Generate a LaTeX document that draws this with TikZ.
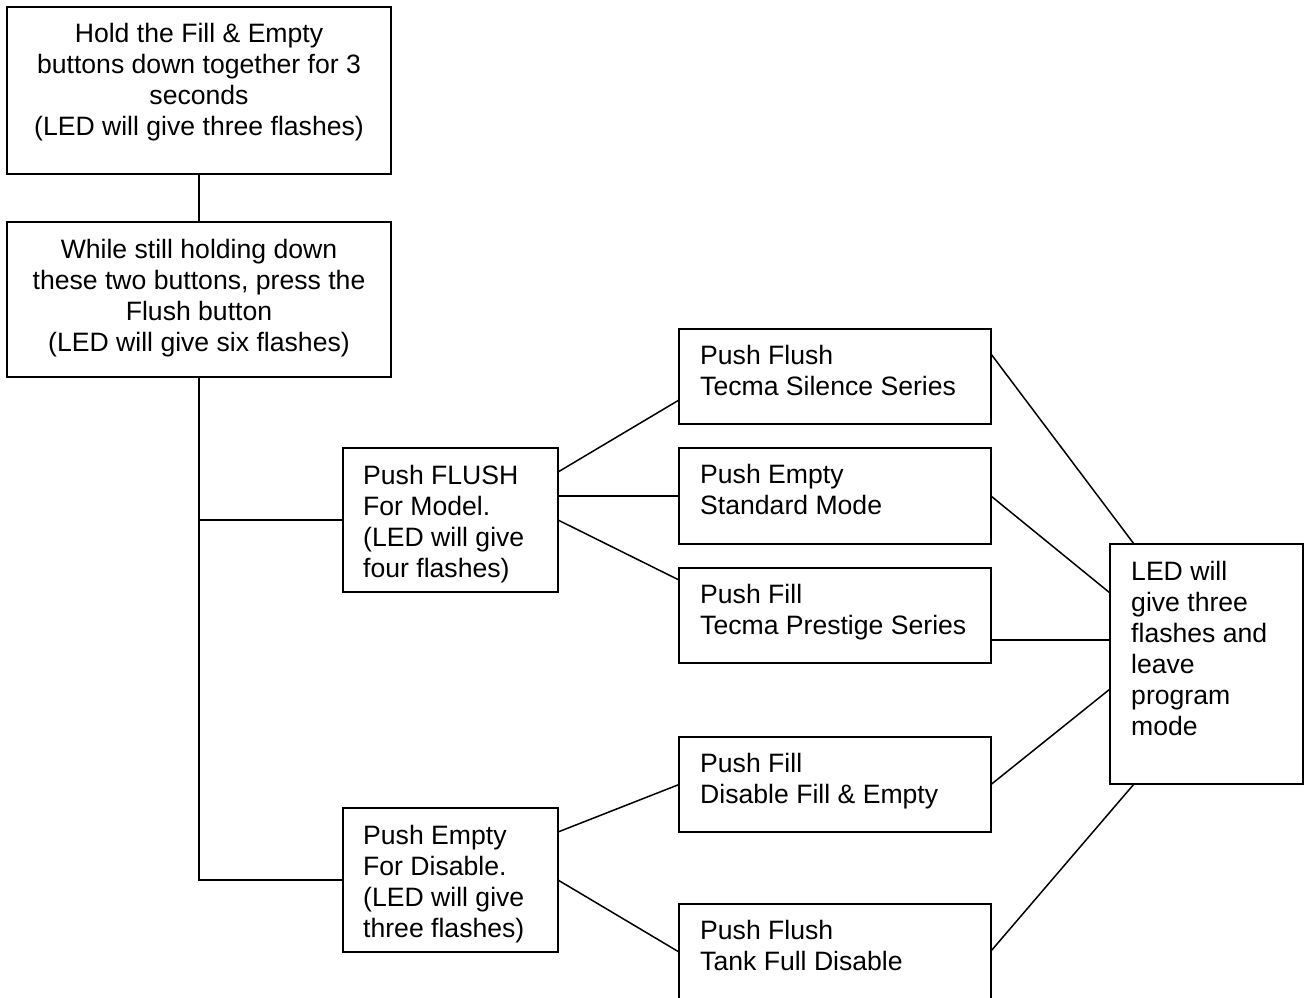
\documentclass[tikz,border=0pt]{standalone}
\usepackage{fontspec}
\setmainfont{Liberation Sans}
\usetikzlibrary{calc}
\begin{document}
\begin{tikzpicture}[x=1pt,y=-1pt,
  box/.style={draw=black,line width=1.6pt,anchor=north west,inner sep=0pt,outer sep=0pt},
  txt/.style={inner sep=0pt,font=\fontsize{26.6}{31}\selectfont},
  conn/.style={draw=black,line width=1.5pt}]
\useasboundingbox (0,0) rectangle (1309,997);
\begin{scope}
\clip (0,0) rectangle (1309,997);
% boxes
\node[box,minimum width=384pt,minimum height=167pt] (A) at (7,7) {};
\node[box,minimum width=384pt,minimum height=155pt] (B) at (7,222) {};
\node[box,minimum width=215pt,minimum height=144pt] (C) at (343,448) {};
\node[box,minimum width=215pt,minimum height=144pt] (D) at (343,808) {};
\node[box,minimum width=312pt,minimum height=95pt] (S1) at (679,329) {};
\node[box,minimum width=312pt,minimum height=96pt] (S2) at (679,448) {};
\node[box,minimum width=312pt,minimum height=95pt] (S3) at (679,568) {};
\node[box,minimum width=312pt,minimum height=95pt] (S4) at (679,737) {};
\node[box,minimum width=312pt,minimum height=120pt] (S5) at (679,904) {};
\node[box,minimum width=193pt,minimum height=240pt] (L) at (1110,544) {};
\end{scope}
% texts (base anchor = baseline of the last line)
\node[txt,align=center,anchor=base] (tA) at ([yshift=-128pt]A.north) {Hold the Fill \& Empty\\buttons down together for 3\\seconds\\ (LED will give three flashes)};
\node[txt,align=center,anchor=base] (tB) at ([yshift=-129pt]B.north) {While still holding down\\these two buttons, press the\\Flush button\\(LED will give six flashes)};
\node[txt,align=left,anchor=base west] (tC) at ([xshift=20pt,yshift=-129pt]C.north west) {Push FLUSH\\For Model.\\(LED will give\\four flashes)};
\node[txt,align=left,anchor=base west] (tD) at ([xshift=20pt,yshift=-129pt]D.north west) {Push Empty\\For Disable.\\(LED will give\\three flashes)};
\node[txt,align=left,anchor=base west] (t1) at ([xshift=21pt,yshift=-66pt]S1.north west) {Push Flush\\Tecma Silence Series};
\node[txt,align=left,anchor=base west] (t2) at ([xshift=21pt,yshift=-66pt]S2.north west) {Push Empty\\Standard Mode};
\node[txt,align=left,anchor=base west] (t3) at ([xshift=21pt,yshift=-66pt]S3.north west) {Push Fill\\Tecma Prestige Series};
\node[txt,align=left,anchor=base west] (t4) at ([xshift=21pt,yshift=-66pt]S4.north west) {Push Fill\\Disable Fill \& Empty};
\node[txt,align=left,anchor=base west] (t5) at ([xshift=21pt,yshift=-66pt]S5.north west) {Push Flush\\Tank Full Disable};
\node[txt,align=left,anchor=base west] (tL) at ([xshift=21pt,yshift=-191pt]L.north west) {LED will\\give three\\flashes and\\leave\\program\\mode};
% connectors
\draw[conn] (A.south) -- (B.north);
\draw[conn] (B.south) |- (D.west);
\draw[conn] (B.south |- C.west) -- (C.west);
\draw[conn] ([yshift=-24pt]C.north east) -- ([yshift=-71pt]S1.north west);
\draw[conn] ([yshift=-48pt]C.north east) -- (S2.west);
\draw[conn] (C.east) -- ([yshift=-12pt]S3.north west);
\draw[conn] ([yshift=-24pt]D.north east) -- (S4.west);
\draw[conn] (D.east) -- ([yshift=-48pt]S5.north west);
\draw[conn] ([yshift=-25pt]S1.north east) -- ([xshift=24pt]L.north west);
\draw[conn] (S2.east) -- ([yshift=-49pt]L.north west);
\draw[conn] ([yshift=-72pt]S3.north east) -- ([yshift=-96pt]L.north west);
\draw[conn] (S4.east) -- ([yshift=-145pt]L.north west);
\draw[conn] ([yshift=-47pt]S5.north east) -- ([xshift=24pt]L.south west);
\end{tikzpicture}
\end{document}
